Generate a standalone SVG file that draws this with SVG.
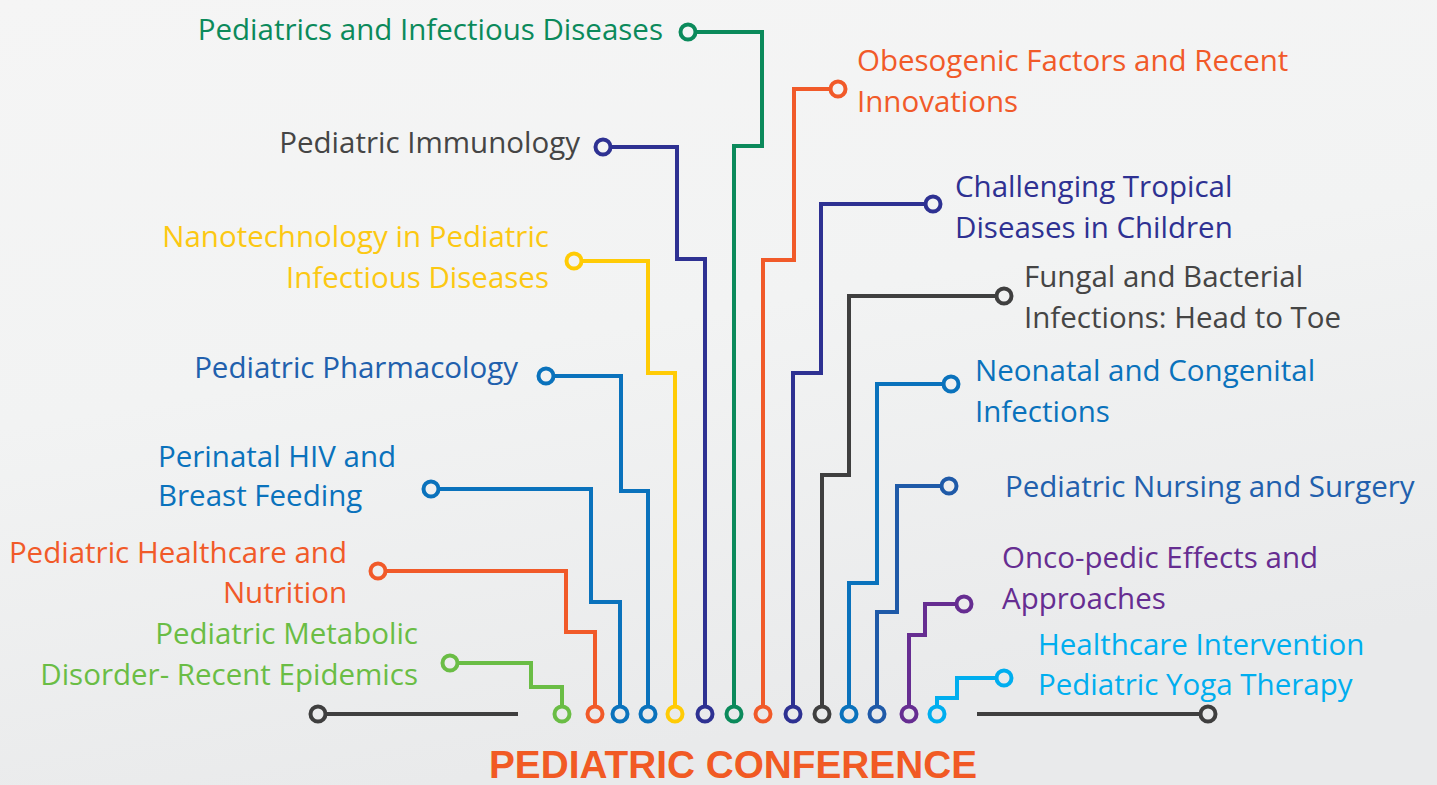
<svg xmlns="http://www.w3.org/2000/svg" width="1437" height="785" viewBox="0 0 1437 785">
<defs>
<linearGradient id="bg" x1="0" y1="0" x2="0.3" y2="1">
<stop offset="0" stop-color="#f5f5f5"/>
<stop offset="0.5" stop-color="#f2f3f3"/>
<stop offset="1" stop-color="#e9eaeb"/>
</linearGradient>
<style>
.t{font-family:"Open Sans","Noto Sans","DejaVu Sans",sans-serif;font-size:29.5px}
.e{text-anchor:end}
.c{fill:none;stroke-width:4}
.w{fill:none;stroke-width:4;stroke-linejoin:miter}
.green{fill:#0b8a5b}.s-green{stroke:#0b8a5b}
.gray{fill:#454545}.s-gray{stroke:#3f3f3f}
.yellow{fill:#fcc812}.s-yellow{stroke:#ffcb05}
.blue2{fill:#2160ad}.s-blue2{stroke:#1f5aa8}
.blue{fill:#0a72bc}.s-blue{stroke:#0a72bc}
.orange{fill:#f15a29}.s-orange{stroke:#f15a29}
.lgreen{fill:#6abd45}.s-lgreen{stroke:#6abd45}
.indigo{fill:#2e3192}.s-indigo{stroke:#2e3192}
.purple{fill:#662d91}.s-purple{stroke:#662d91}
.cyan{fill:#00aeef}.s-cyan{stroke:#00aeef}
</style>
</defs>
<rect x="0" y="0" width="1437" height="785" fill="url(#bg)"/>

<g id="connectors">
<path class="w s-lgreen" d="M457.5,663 H531 V687 H562 V706.5"/>
<path class="w s-orange" d="M385.5,571 H566 V632 H595 V706.5"/>
<path class="w s-blue" d="M438.5,489 H591 V602 H620 V706.5"/>
<path class="w s-blue" d="M553.5,376 H621 V491 H648 V706.5"/>
<path class="w s-yellow" d="M581.5,261 H648 V373 H675 V706.5"/>
<path class="w s-indigo" d="M610.5,147 H677 V259 H705 V706.5"/>
<path class="w s-green" d="M695.5,32 H762 V146 H734 V706.5"/>
<path class="w s-orange" d="M830.5,89 H794 V260 H763 V706.5"/>
<path class="w s-indigo" d="M925.5,204 H821 V373 H793 V706.5"/>
<path class="w s-gray" d="M996.5,296 H849 V475 H822 V706.5"/>
<path class="w s-blue" d="M943.5,384 H877 V583 H849 V706.5"/>
<path class="w s-blue2" d="M941.5,486 H897 V612 H877 V706.5"/>
<path class="w s-purple" d="M956.5,604 H925 V635 H909 V706.5"/>
<path class="w s-cyan" d="M996.5,678 H957 V698 H937 V706.5"/>
<path class="w s-gray" d="M325.5,714 H518"/>
<path class="w s-gray" d="M977,714 H1200.5"/>
</g>

<g id="hub">
<circle class="c s-gray" cx="318" cy="714" r="7.5"/>
<circle class="c s-lgreen" cx="562" cy="714" r="7.5"/>
<circle class="c s-orange" cx="595" cy="714" r="7.5"/>
<circle class="c s-blue" cx="620" cy="714" r="7.5"/>
<circle class="c s-blue" cx="648" cy="714" r="7.5"/>
<circle class="c s-yellow" cx="675" cy="714" r="7.5"/>
<circle class="c s-indigo" cx="705" cy="714" r="7.5"/>
<circle class="c s-green" cx="734" cy="714" r="7.5"/>
<circle class="c s-orange" cx="763" cy="714" r="7.5"/>
<circle class="c s-indigo" cx="793" cy="714" r="7.5"/>
<circle class="c s-gray" cx="822" cy="714" r="7.5"/>
<circle class="c s-blue" cx="849" cy="714" r="7.5"/>
<circle class="c s-blue2" cx="877" cy="714" r="7.5"/>
<circle class="c s-purple" cx="909" cy="714" r="7.5"/>
<circle class="c s-cyan" cx="937" cy="714" r="7.5"/>
<circle class="c s-gray" cx="1208" cy="714" r="7.5"/>
<text x="733" y="778" text-anchor="middle" font-family="'Liberation Sans',Arial,sans-serif" font-weight="bold" font-size="39" fill="#f15a24" textLength="488" lengthAdjust="spacingAndGlyphs">PEDIATRIC CONFERENCE</text>
</g>

<g id="node-infectious">
<circle class="c s-green" cx="688" cy="32" r="7.5"/>
<text class="t e green" x="663" y="40">Pediatrics and Infectious Diseases</text>
</g>
<g id="node-immunology">
<circle class="c s-indigo" cx="603" cy="147" r="7.5"/>
<text class="t e gray" x="580" y="153">Pediatric Immunology</text>
</g>
<g id="node-nanotech">
<circle class="c s-yellow" cx="574" cy="261" r="7.5"/>
<text class="t e yellow" x="549" y="247">Nanotechnology in Pediatric</text>
<text class="t e yellow" x="549" y="288">Infectious Diseases</text>
</g>
<g id="node-pharmacology">
<circle class="c s-blue" cx="546" cy="376" r="7.5"/>
<text class="t e blue2" x="518" y="378">Pediatric Pharmacology</text>
</g>
<g id="node-perinatal">
<circle class="c s-blue" cx="431" cy="489" r="7.5"/>
<text class="t blue" x="158" y="467">Perinatal HIV and</text>
<text class="t blue" x="158" y="506">Breast Feeding</text>
</g>
<g id="node-nutrition">
<circle class="c s-orange" cx="378" cy="571" r="7.5"/>
<text class="t e orange" x="347" y="563">Pediatric Healthcare and</text>
<text class="t e orange" x="347" y="603">Nutrition</text>
</g>
<g id="node-metabolic">
<circle class="c s-lgreen" cx="450" cy="663" r="7.5"/>
<text class="t e lgreen" x="418" y="644">Pediatric Metabolic</text>
<text class="t e lgreen" x="418" y="685">Disorder- Recent Epidemics</text>
</g>

<g id="node-obesogenic">
<circle class="c s-orange" cx="838" cy="89" r="7.5"/>
<text class="t orange" x="857" y="71">Obesogenic Factors and Recent</text>
<text class="t orange" x="857" y="112">Innovations</text>
</g>
<g id="node-tropical">
<circle class="c s-indigo" cx="933" cy="204" r="7.5"/>
<text class="t indigo" x="955" y="197">Challenging Tropical</text>
<text class="t indigo" x="955" y="238">Diseases in Children</text>
</g>
<g id="node-fungal">
<circle class="c s-gray" cx="1004" cy="296" r="7.5"/>
<text class="t gray" x="1024" y="287">Fungal and Bacterial</text>
<text class="t gray" x="1024" y="328">Infections: Head to Toe</text>
</g>
<g id="node-neonatal">
<circle class="c s-blue" cx="951" cy="384" r="7.5"/>
<text class="t blue" x="975" y="381">Neonatal and Congenital</text>
<text class="t blue" x="975" y="422">Infections</text>
</g>
<g id="node-nursing">
<circle class="c s-blue2" cx="949" cy="486" r="7.5"/>
<text class="t blue2" x="1005" y="497">Pediatric Nursing and Surgery</text>
</g>
<g id="node-onco">
<circle class="c s-purple" cx="964" cy="604" r="7.5"/>
<text class="t purple" x="1002" y="568">Onco-pedic Effects and</text>
<text class="t purple" x="1002" y="609">Approaches</text>
</g>
<g id="node-yoga">
<circle class="c s-cyan" cx="1004" cy="678" r="7.5"/>
<text class="t cyan" x="1038" y="655">Healthcare Intervention</text>
<text class="t cyan" x="1038" y="695">Pediatric Yoga Therapy</text>
</g>
</svg>
